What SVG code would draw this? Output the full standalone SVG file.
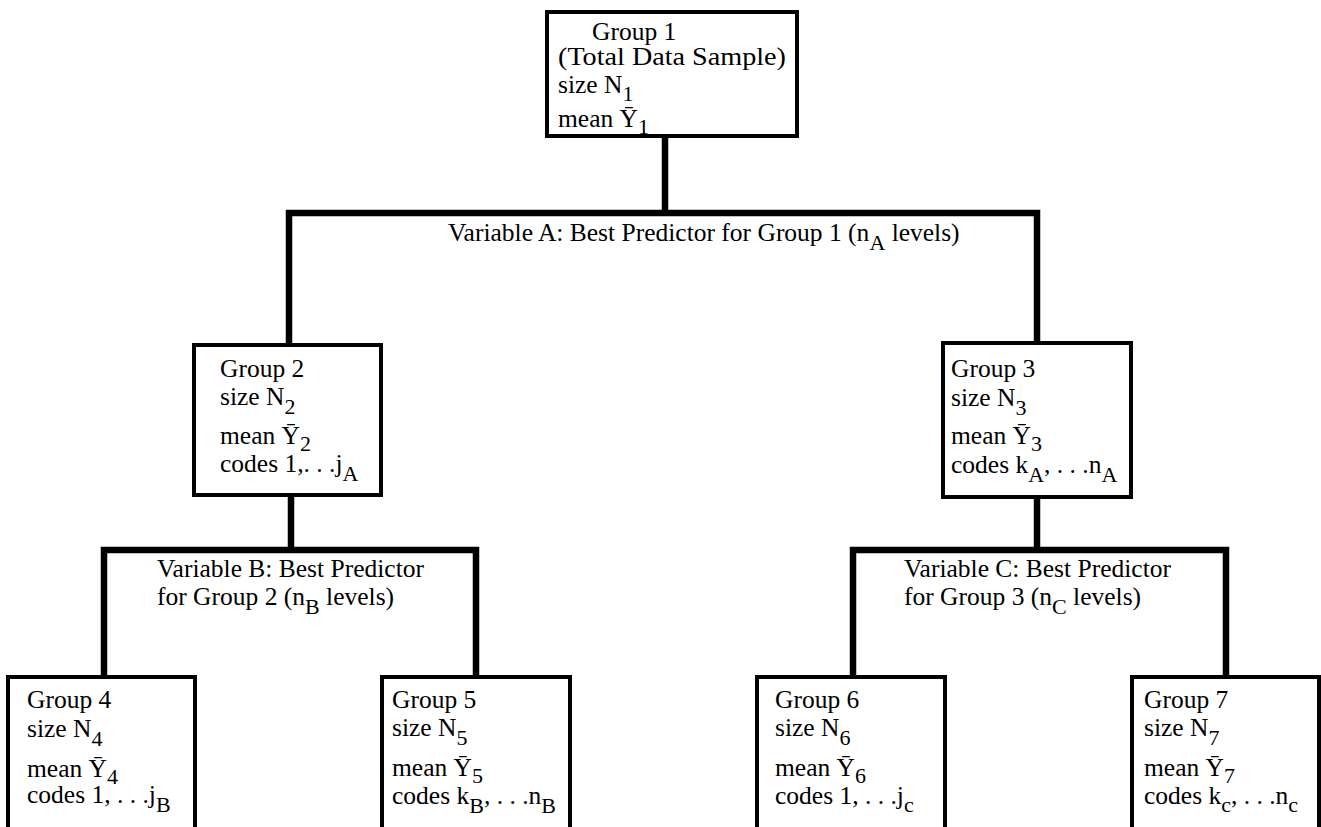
<svg xmlns="http://www.w3.org/2000/svg" width="1321" height="827" viewBox="0 0 1321 827">
  <style>
    .box { fill: #ffffff; stroke: #000000; stroke-width: 4; }
    .link { fill: none; stroke: #000000; stroke-width: 6.5; stroke-linejoin: miter; stroke-linecap: butt; }
    text { font-family: "Liberation Serif", "Times New Roman", serif; font-size: 25.5px; fill: #000000; }
    .sub { font-size: 22px; }
  </style>
  <rect width="1321" height="827" fill="#ffffff"/>

  <!-- tree connectors -->
  <g id="connectors">
    <path class="link" d="M665,136 V213"/>
    <path class="link" d="M289,345 V213 H1037 V343"/>
    <path class="link" d="M291,495 V550"/>
    <path class="link" d="M104,677 V550 H476 V677"/>
    <path class="link" d="M1037,497 V550"/>
    <path class="link" d="M853,677 V550 H1226 V677"/>
  </g>

  <!-- split labels -->
  <g id="split-a">
    <text x="448" y="241">Variable A: Best Predictor for Group 1 (n<tspan class="sub" dy="9">A</tspan><tspan dy="-9"> levels)</tspan></text>
  </g>
  <g id="split-b">
    <text x="157" y="577">Variable B: Best Predictor</text>
    <text x="157" y="605">for Group 2 (n<tspan class="sub" dy="9">B</tspan><tspan dy="-9"> levels)</tspan></text>
  </g>
  <g id="split-c">
    <text x="904" y="577">Variable C: Best Predictor</text>
    <text x="904" y="605">for Group 3 (n<tspan class="sub" dy="9">C</tspan><tspan dy="-9"> levels)</tspan></text>
  </g>

  <!-- groups -->
  <g id="group1">
    <rect class="box" x="547" y="12" width="250" height="124"/>
    <text x="592" y="40">Group 1</text>
    <text x="558" y="65" textLength="228" lengthAdjust="spacingAndGlyphs">(Total Data Sample)</text>
    <text x="558" y="93">size N<tspan class="sub" dy="8">1</tspan></text>
    <text x="558" y="127">mean Ȳ<tspan class="sub" dy="7">1</tspan></text>
  </g>

  <g id="group2">
    <rect class="box" x="194" y="345" width="187" height="150"/>
    <text x="220" y="377">Group 2</text>
    <text x="220" y="405">size N<tspan class="sub" dy="9">2</tspan></text>
    <text x="220" y="444">mean Ȳ<tspan class="sub" dy="7">2</tspan></text>
    <text x="220" y="472">codes 1,. . .j<tspan class="sub" dy="9">A</tspan></text>
  </g>

  <g id="group3">
    <rect class="box" x="943" y="343" width="188" height="154"/>
    <text x="951" y="377">Group 3</text>
    <text x="951" y="406">size N<tspan class="sub" dy="9">3</tspan></text>
    <text x="951" y="444">mean Ȳ<tspan class="sub" dy="7">3</tspan></text>
    <text x="951" y="473">codes k<tspan class="sub" dy="9">A</tspan><tspan dy="-9">, . . .n</tspan><tspan class="sub" dy="9">A</tspan></text>
  </g>

  <g id="group4">
    <rect class="box" x="8" y="677" width="187" height="155"/>
    <text x="27" y="708">Group 4</text>
    <text x="27" y="737">size N<tspan class="sub" dy="9">4</tspan></text>
    <text x="27" y="777">mean Ȳ<tspan class="sub" dy="7">4</tspan></text>
    <text x="27" y="803">codes 1, . . .j<tspan class="sub" dy="9">B</tspan></text>
  </g>

  <g id="group5">
    <rect class="box" x="382" y="677" width="188" height="155"/>
    <text x="392" y="708">Group 5</text>
    <text x="392" y="736">size N<tspan class="sub" dy="9">5</tspan></text>
    <text x="392" y="776">mean Ȳ<tspan class="sub" dy="7">5</tspan></text>
    <text x="392" y="804">codes k<tspan class="sub" dy="9">B</tspan><tspan dy="-9">, . . .n</tspan><tspan class="sub" dy="9">B</tspan></text>
  </g>

  <g id="group6">
    <rect class="box" x="757" y="677" width="188" height="155"/>
    <text x="775" y="708">Group 6</text>
    <text x="775" y="736">size N<tspan class="sub" dy="9">6</tspan></text>
    <text x="775" y="776">mean Ȳ<tspan class="sub" dy="7">6</tspan></text>
    <text x="775" y="804">codes 1, . . .j<tspan class="sub" dy="8">c</tspan></text>
  </g>

  <g id="group7">
    <rect class="box" x="1132" y="677" width="187" height="155"/>
    <text x="1144" y="708">Group 7</text>
    <text x="1144" y="736">size N<tspan class="sub" dy="9">7</tspan></text>
    <text x="1144" y="776">mean Ȳ<tspan class="sub" dy="7">7</tspan></text>
    <text x="1144" y="804">codes k<tspan class="sub" dy="8">c</tspan><tspan dy="-8">, . . .n</tspan><tspan class="sub" dy="8">c</tspan></text>
  </g>
</svg>
